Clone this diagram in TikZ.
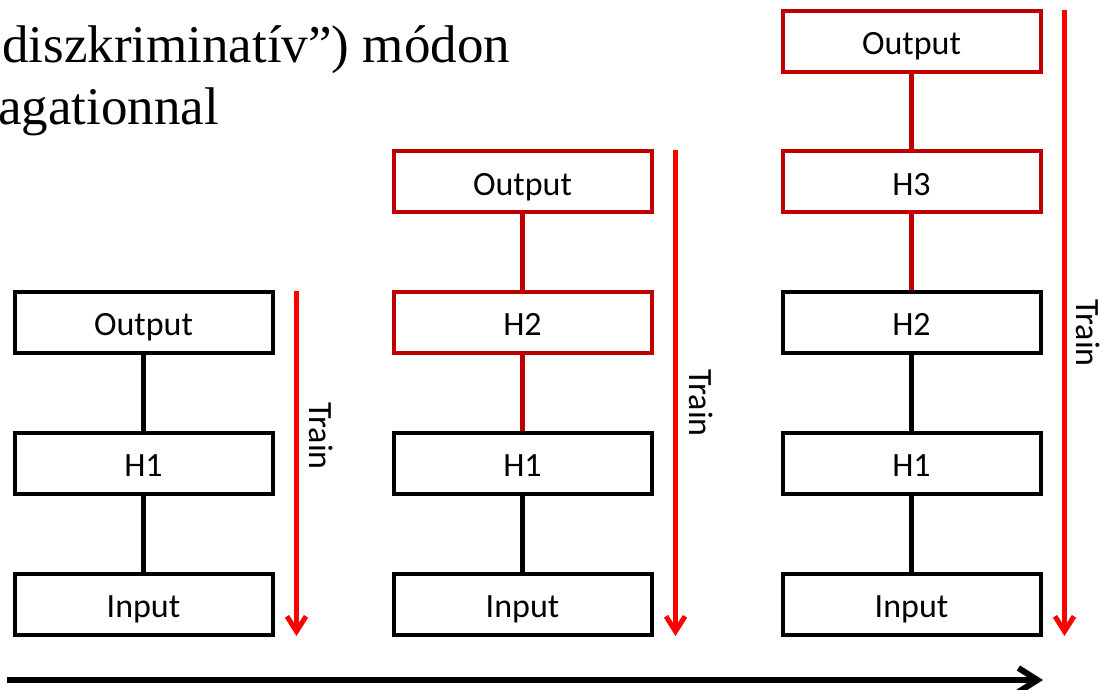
\documentclass[tikz,border=0pt]{standalone}
\usepackage{fontspec}
\setmainfont{Liberation Serif}
\newfontfamily\boxfont{Carlito}
\usetikzlibrary{arrows.meta}
\definecolor{darkred}{RGB}{192,0,0}
\definecolor{brightred}{RGB}{255,0,0}
\tikzset{
  layer/.style={draw=black, line width=4pt, minimum width=258pt, minimum height=61pt,
    inner sep=0pt, text height=27pt, text depth=0pt,
    font=\boxfont\fontsize{34}{40}\selectfont},
  newlayer/.style={layer, draw=darkred},
  link/.style={line width=5pt, black},
  newlink/.style={link, darkred},
  trainarrow/.style={brightred, line width=4.5pt,
    -{Straight Barb[length=15pt, width=19pt, line width=5pt]}},
  trainlabel/.style={rotate=-90, inner sep=0pt, font=\boxfont\fontsize{34}{40}\selectfont},
  timeline/.style={line width=6.5pt, -{Straight Barb[length=19pt, width=24pt, line width=6pt]}},
  headline/.style={anchor=base west, inner sep=0pt, font=\fontsize{53}{63}\selectfont}
}
\begin{document}
\begin{tikzpicture}[x=1pt, y=-1pt]
\useasboundingbox (0,0) rectangle (1103,690);
\clip (0,0) rectangle (1103,690);

% heading text
\node[headline] (line1) at (2,63) {diszkriminatív”) módon};
\node[headline] (line2) at (-2,125) {agationnal};

% first stage
\node[layer] (a-out) at (143.5,322) {Output};
\node[layer] (a-h1)  at (143.5,463) {H1};
\node[layer] (a-in)  at (143.5,604) {Input};
\draw[link] (a-out.south) -- (a-h1.north);
\draw[link] (a-h1.south) -- (a-in.north);
\coordinate (a-t0) at (296.5,291);
\coordinate (a-t1) at (296.5,636);
\draw[trainarrow] (a-t0) -- (a-t1);
\node[trainlabel] (a-train) at (321,436) {Train};

% second stage
\node[newlayer] (b-out) at (522.5,181.5) {Output};
\node[newlayer] (b-h2)  at (522.5,322) {H2};
\node[layer] (b-h1)  at (522.5,463) {H1};
\node[layer] (b-in)  at (522.5,604) {Input};
\draw[newlink] (b-out.south) -- (b-h2.north);
\draw[newlink] (b-h2.south) -- (b-h1.north);
\draw[link] (b-h1.south) -- (b-in.north);
\coordinate (b-t0) at (675.5,150);
\coordinate (b-t1) at (675.5,636);
\draw[trainarrow] (b-t0) -- (b-t1);
\node[trainlabel] (b-train) at (701,403) {Train};

% third stage
\node[newlayer] (c-out) at (911.5,41.5) {Output};
\node[newlayer] (c-h3)  at (911.5,181.5) {H3};
\node[layer] (c-h2)  at (911.5,322) {H2};
\node[layer] (c-h1)  at (911.5,463) {H1};
\node[layer] (c-in)  at (911.5,604) {Input};
\draw[newlink] (c-out.south) -- (c-h3.north);
\draw[newlink] (c-h3.south) -- (c-h2.north);
\draw[link] (c-h2.south) -- (c-h1.north);
\draw[link] (c-h1.south) -- (c-in.north);
\coordinate (c-t0) at (1064.5,10);
\coordinate (c-t1) at (1064.5,636);
\draw[trainarrow] (c-t0) -- (c-t1);
\node[trainlabel] (c-train) at (1088,333) {Train};

% progression arrow along the bottom
\coordinate (s0) at (7,680);
\coordinate (s1) at (1043,680);
\draw[timeline] (s0) -- (s1);
\end{tikzpicture}
\end{document}
